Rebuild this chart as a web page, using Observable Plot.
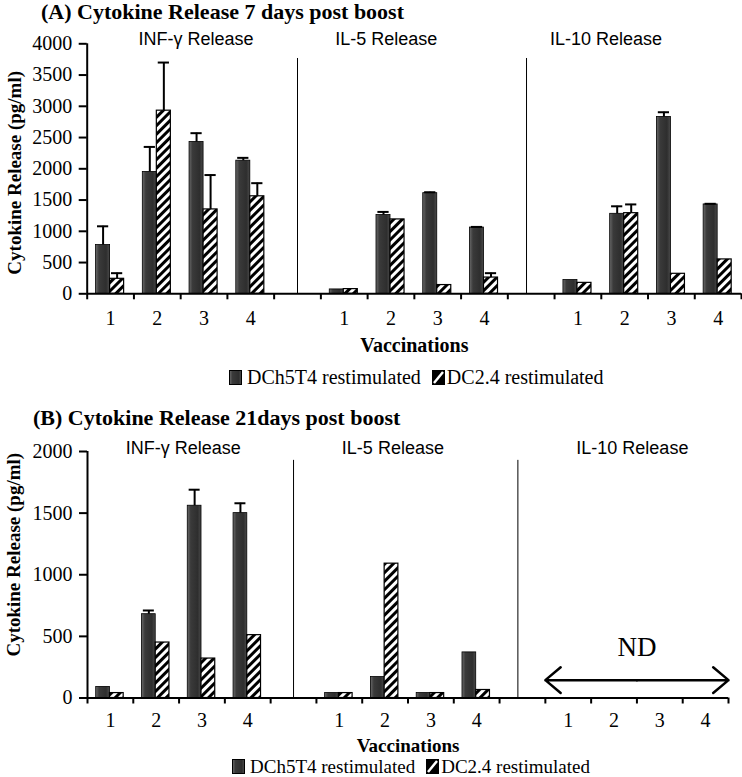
<!DOCTYPE html>
<html><head><meta charset="utf-8">
<script src="https://cdn.jsdelivr.net/npm/d3@7"></script>
<script src="https://cdn.jsdelivr.net/npm/@observablehq/plot@0.6"></script>
<style>
body{margin:0;background:#fff;}
#root{position:relative;width:742px;height:777px;overflow:hidden;font-family:"Liberation Serif","Times New Roman",serif;color:#000;}
.title{position:absolute;font-weight:bold;font-size:22px;white-space:nowrap;line-height:1.1;}
.panel{position:absolute;left:0;}
.legend{position:absolute;white-space:nowrap;display:flex;align-items:center;line-height:1;}
.legend svg{display:block;}
</style></head>
<body>
<svg width="0" height="0" style="position:absolute">
<defs>
<pattern id="hatch" patternUnits="userSpaceOnUse" width="6" height="6" patternTransform="rotate(45)">
<rect width="6" height="6" fill="#fff"/><rect width="3" height="6" fill="#000"/>
</pattern>
<linearGradient id="dark" x1="0" x2="1" y1="0" y2="0">
<stop offset="0" stop-color="#6a6a6a"/><stop offset="0.25" stop-color="#3a3a3a"/><stop offset="0.75" stop-color="#2e2e2e"/><stop offset="1" stop-color="#4a4a4a"/>
</linearGradient>
</defs></svg>
<div id="root"></div>
<script>
// ---------- data ----------
const groups = ["INF-\u03b3 Release", "IL-5 Release", "IL-10 Release"];
const vaccinations = ["1", "2", "3", "4"];
const seriesNames = ["DCh5T4 restimulated", "DC2.4 restimulated"];
const yLabel = "Cytokine Release (pg/ml)";
const xLabel = "Vaccinations";
const titleA = "(A) Cytokine Release 7 days post boost";
const titleB = "(B) Cytokine Release 21days post boost";

// Panel A (7 days): INF-γ 1-4, IL-5 1-4, IL-10 1-4
const aDCh5T4    = [780, 1950, 2430, 2130,  70, 1260, 1610, 1060,  220, 1280, 2830, 1430];
const aDCh5T4Err = [300,  400,  140,   45,   0,   50,   15,   10,    0,  120,   75,   10];
const aDC24      = [240, 2930, 1350, 1560,  75, 1190,  140,  260,  175, 1290,  320,  550];
const aDC24Err   = [ 90,  770,  550,  210,   0,    0,    0,   70,    0,  140,    0,    0];
const yTicksA = [0, 500, 1000, 1500, 2000, 2500, 3000, 3500, 4000];

// Panel B (21 days): IL-10 not detected (ND)
const bDCh5T4    = [90, 680, 1560, 1500,  40,  170, 40, 370,  null, null, null, null];
const bDCh5T4Err = [ 0,  30,  130,   80,   0,    0,  0,   0,  null, null, null, null];
const bDC24      = [40, 450,  320,  510,  40, 1090, 40,  65,  null, null, null, null];
const bDC24Err   = [ 0,   0,    0,    0,   0,    0,  0,   0,  null, null, null, null];
const yTicksB = [0, 500, 1000, 1500, 2000];
const ndText = "ND";

// ---------- layout ----------
const BAR_START = 0.19, BAR_W = 0.3, CAP = 0.12;
const SLOTS = 14;
const separators = [4.5, 9.4];
const SERIF = "Liberation Serif, Times New Roman, serif";
const SANS = "Liberation Sans, Arial, sans-serif";

function buildRows(dch, dchErr, dc, dcErr) {
  const out = [];
  groups.forEach((g, gi) => vaccinations.forEach((v, vi) => {
    const k = gi * 4 + vi, slot = gi * 5 + vi;
    if (dch[k] != null) out.push({series: seriesNames[0], slot, off: 0, value: dch[k], err: dchErr[k] || 0});
    if (dc[k] != null) out.push({series: seriesNames[1], slot, off: 1, value: dc[k], err: dcErr[k] || 0});
  }));
  return out;
}

function panel(cfg) {
  const data = buildRows(cfg.dch, cfg.dchErr, cfg.dc, cfg.dcErr);
  const centers = [];
  groups.forEach((g, gi) => vaccinations.forEach((v, vi) => centers.push(gi * 5 + vi + 0.5)));
  const bx1 = d => d.slot + BAR_START + d.off * BAR_W;
  const bx2 = d => bx1(d) + BAR_W;
  const mid = d => bx1(d) + BAR_W / 2;
  const withErr = data.filter(d => d.err > 0);
  const marks = [
    Plot.ruleX(separators, {x: d => d, y1: 0, y2: cfg.sepTop, stroke: "#000", strokeWidth: 1}),
    Plot.rect(data.filter(d => d.off === 0), {x1: bx1, x2: bx2, y1: 0, y2: "value", fill: "url(#dark)", stroke: "#000", strokeWidth: 0.8}),
    Plot.rect(data.filter(d => d.off === 1), {x1: bx1, x2: bx2, y1: 0, y2: "value", fill: "url(#hatch)", stroke: "#000", strokeWidth: 1.2}),
    Plot.ruleX(withErr, {x: mid, y1: "value", y2: d => d.value + d.err, stroke: "#000", strokeWidth: 2}),
    Plot.ruleY(withErr, {y: d => d.value + d.err, x1: d => mid(d) - CAP, x2: d => mid(d) + CAP, stroke: "#000", strokeWidth: 2}),
    Plot.ruleY([0], {stroke: "#000", strokeWidth: 2}),
    Plot.ruleX([0], {stroke: "#000", strokeWidth: 2}),
    Plot.axisY({ticks: cfg.yTicks, tickSize: 8, tickPadding: 7, tickFormat: d => String(d), label: null, strokeWidth: 2, fontSize: 20}),
    Plot.axisX({ticks: d3.range(SLOTS + 1), tickSize: 6, tickFormat: () => "", label: null, strokeWidth: 2}),
    Plot.axisX({ticks: centers, tickSize: 0, tickPadding: cfg.xTickPad, tickFormat: d => vaccinations[Math.floor(d) % 5], label: null, fontSize: 20}),
    Plot.text(groups, {x: (d, i) => cfg.titleX[i], y: cfg.titleY, text: d => d, fontFamily: SANS, fontSize: 18}),
    Plot.text([yLabel], {frameAnchor: "left", textAnchor: "middle", lineAnchor: "middle", rotate: -90, dx: cfg.yLabelDx, dy: cfg.yLabelDy, text: d => d, fontWeight: "bold", fontSize: 19}),
    Plot.text([xLabel], {frameAnchor: "bottom", textAnchor: "middle", lineAnchor: "middle", dy: cfg.xLabelDy, text: d => d, fontWeight: "bold", fontSize: cfg.xLabelSize})
  ];
  if (cfg.nd) {
    marks.push(Plot.arrow([{a: cfg.nd.mid, b: cfg.nd.from}, {a: cfg.nd.mid, b: cfg.nd.to}],
      {x1: "a", x2: "b", y1: cfg.nd.arrowY, y2: cfg.nd.arrowY, stroke: "#000", strokeWidth: 2.5, headLength: 12, headAngle: 80}));
    marks.push(Plot.text([ndText], {x: cfg.nd.mid, y: cfg.nd.textY, text: d => d, fontSize: 27}));
  }
  return Plot.plot({
    width: 742, height: cfg.height,
    marginTop: cfg.mt, marginBottom: cfg.mb, marginLeft: cfg.ml, marginRight: cfg.mr,
    x: {domain: [0, SLOTS]},
    y: {domain: cfg.yDomain},
    style: {fontFamily: SERIF, fontSize: "20px", color: "#000", background: "transparent", overflow: "visible"},
    marks
  });
}

function legend(left, top, size, gap) {
  const div = document.createElement("div");
  div.className = "legend";
  div.style.left = left + "px"; div.style.top = top + "px"; div.style.fontSize = size + "px";
  div.innerHTML =
    `<svg width="13" height="15" style="margin-right:5px"><rect x="0.5" y="0.5" width="12" height="14" fill="url(#dark)" stroke="#000"/></svg>` +
    `<span>${seriesNames[0]}</span>` +
    `<span style="display:inline-block;width:${gap}px"></span>` +
    `<svg width="13" height="15" style="margin-right:2px"><rect x="0.5" y="0.5" width="12" height="14" fill="#000" stroke="#000"/><line x1="2" y1="13" x2="11" y2="2" stroke="#fff" stroke-width="2.5"/></svg>` +
    `<span>${seriesNames[1]}</span>`;
  return div;
}

const root = document.getElementById("root");

function addTitle(text, left, top) {
  const t = document.createElement("div");
  t.className = "title"; t.textContent = text;
  t.style.left = left + "px"; t.style.top = top + "px";
  root.appendChild(t);
}

// Panel A
const wrapA = document.createElement("div");
wrapA.className = "panel"; wrapA.style.top = "0px";
wrapA.appendChild(panel({
  dch: aDCh5T4, dchErr: aDCh5T4Err, dc: aDC24, dcErr: aDC24Err,
  yTicks: yTicksA, yDomain: [0, 4000],
  height: 365, mt: 43.3, mb: 71.7, ml: 86.7, mr: 1,
  sepTop: 3765, titleX: [2.33, 6.4, 11.1], titleY: 4069,
  yLabelDx: -72, yLabelDy: 4, xLabelDy: 52, xLabelSize: 20, xTickPad: 17
}));
root.appendChild(wrapA);
addTitle(titleA, 41, 0);
root.appendChild(legend(229, 367, 20, 11));

// Panel B
const wrapB = document.createElement("div");
wrapB.className = "panel"; wrapB.style.top = "395px";
wrapB.appendChild(panel({
  dch: bDCh5T4, dchErr: bDCh5T4Err, dc: bDC24, dcErr: bDC24Err,
  yTicks: yTicksB, yDomain: [0, 2000],
  height: 365, mt: 56, mb: 62.5, ml: 87, mr: 14,
  sepTop: 1928, titleX: [2.09, 6.67, 11.9], titleY: 2025,
  yLabelDx: -74, yLabelDy: -20, xLabelDy: 47.5, xLabelSize: 19, xTickPad: 15,
  nd: {mid: 12, from: 10, to: 14, arrowY: 145, textY: 411}
}));
root.appendChild(wrapB);
addTitle(titleB, 33, 406);
root.appendChild(legend(232, 757, 19, 11));
</script>
</body></html>
